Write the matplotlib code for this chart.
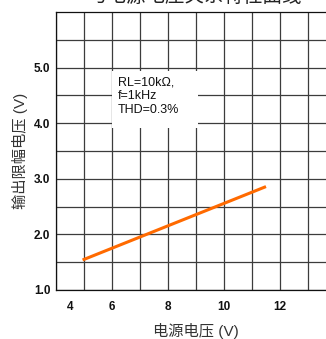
import matplotlib.pyplot as plt
import matplotlib.transforms as mtransforms
from matplotlib.patches import Rectangle

plt.rcParams['font.family'] = ['Liberation Sans', 'Noto Sans CJK SC', 'DejaVu Sans']

# supply voltage (V) vs. output clipping voltage (V)
supply_v = [4.95, 11.5]
clip_v = [1.54, 2.86]

x_ticks = [4, 6, 8, 10, 12]
x_labels = ['4', '6', '8', '10', '12']
y_ticks = [1.0, 2.0, 3.0, 4.0, 5.0]
y_labels = ['1.0', '2.0', '3.0', '4.0', '5.0']
note_lines = ['RL=10k\u03a9,', 'f=1kHz', 'THD=0.3%']

fig = plt.figure(figsize=(3.26, 3.39), dpi=100)
ax = fig.add_axes([56 / 326, 49 / 339, 280 / 326, 278 / 339])

ax.plot(supply_v, clip_v, color='#ff6a00', lw=2.2, solid_capstyle='butt', zorder=4)

ax.set_xlim(4, 14)
ax.set_ylim(1.0, 6.0)
ax.set_xticks(x_ticks)
ax.set_xticklabels(x_labels)
ax.set_xticks([5, 7, 9, 11, 13], minor=True)
ax.set_yticks(y_ticks)
ax.set_yticklabels(y_labels)
ax.set_yticks([1.5, 2.5, 3.5, 4.5, 5.5], minor=True)

ax.grid(True, which='both', color='#3c3c3c', lw=0.9, zorder=1)
ax.set_axisbelow(True)
ax.tick_params(which='both', length=0)
ax.tick_params(axis='x', pad=8, labelsize=8.5)
ax.tick_params(axis='y', pad=4, labelsize=8.5)
for lab in ax.get_xticklabels() + ax.get_yticklabels():
    lab.set_fontweight('bold')
    lab.set_color('#111111')

# first x label sits a bit to the right
first = ax.get_xticklabels()[0]
first.set_transform(first.get_transform() +
                    mtransforms.ScaledTranslation(14 / 100, 0, fig.dpi_scale_trans))

for side in ['left', 'bottom', 'top']:
    ax.spines[side].set_color('#111111')
    ax.spines[side].set_linewidth(0.9)
ax.spines['right'].set_visible(False)

# axis titles placed in figure pixels
fig.text(196 / 326, 1 - 331 / 339, '电源电压 (V)', fontsize=11, color='#333333',
         ha='center', va='center')
fig.text(20 / 326, 1 - 151 / 339, '输出限幅电压 (V)', fontsize=11, color='#333333',
         ha='center', va='center', rotation=90)

# white box behind the test conditions
ax.add_patch(Rectangle((6.0, 3.91), 3.07, 1.02, facecolor='white',
                       edgecolor='none', zorder=2))
ax.text(6.21, 4.84, '\n'.join(note_lines), fontsize=9, color='#111111',
        va='top', ha='left', linespacing=1.2, zorder=3)

fig.text(195 / 326, 1 + 3 / 339, '与电源电压关系特性曲线', fontsize=14,
         color='#222222', ha='center', va='center')

fig.savefig('out.png', dpi=100)
